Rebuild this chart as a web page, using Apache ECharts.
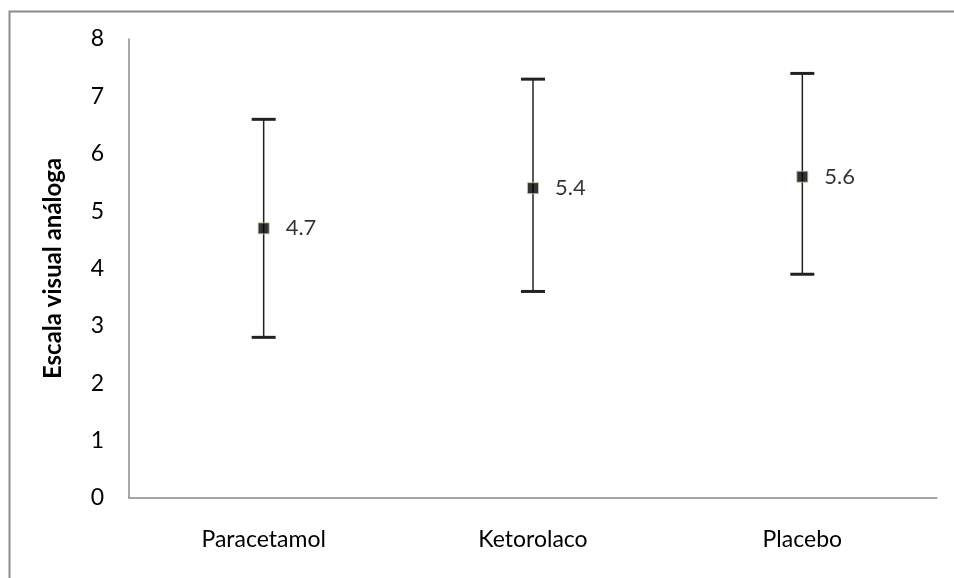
<!DOCTYPE html>
<html>
<head>
<meta charset="utf-8">
<script src="https://cdn.jsdelivr.net/npm/echarts@6/dist/echarts.min.js"></script>
<style>
  html, body { margin: 0; padding: 0; background: #fff; }
  #chart { width: 954px; height: 578px; }
</style>
</head>
<body>
<div id="chart"></div>
<script>
// Pain scores (visual analogue scale) by treatment group
const categories = ['Paracetamol', 'Ketorolaco', 'Placebo'];
const means = [4.7, 5.4, 5.6];
const upperBounds = [6.6, 7.3, 7.4];
const lowerBounds = [2.8, 3.6, 3.9];
const yTicks = [0, 1, 2, 3, 4, 5, 6, 7, 8];

const labelFont = 'Lato, "Open Sans", sans-serif';

const chart = echarts.init(document.getElementById('chart'), null, { renderer: 'canvas' });

const errorData = categories.map((c, i) => [i, lowerBounds[i], upperBounds[i]]);
const meanData = categories.map((c, i) => [i, means[i]]);

chart.setOption({
  backgroundColor: '#ffffff',
  animation: false,
  graphic: [{
    type: 'rect',
    left: 7, top: 9,
    shape: { width: 1000, height: 620 },
    style: { fill: 'none', stroke: '#8c8c8c', lineWidth: 2 },
    silent: true
  }],
  grid: { left: 129, right: 17, top: 39, bottom: 80 },
  xAxis: {
    type: 'category',
    data: categories,
    boundaryGap: true,
    axisLine: { show: true, lineStyle: { color: '#8a8a8a', width: 1.5 } },
    axisTick: { show: false },
    axisLabel: { margin: 30, color: '#000', fontSize: 23, fontFamily: labelFont }
  },
  yAxis: {
    type: 'value',
    min: yTicks[0],
    max: yTicks[yTicks.length - 1],
    interval: 1,
    name: 'Escala visual análoga',
    nameLocation: 'middle',
    nameGap: 64,
    nameRotate: 90,
    nameTextStyle: { color: '#000', fontSize: 24, fontWeight: 'bold', fontFamily: labelFont },
    axisLine: { show: true, lineStyle: { color: '#8a8a8a', width: 1.5 } },
    axisTick: { show: false },
    splitLine: { show: false },
    axisLabel: { margin: 25, color: '#000', fontSize: 23, fontFamily: labelFont }
  },
  series: [
    {
      type: 'custom',
      name: 'rango',
      data: errorData,
      renderItem: function (params, api) {
        const x = api.value(0);
        const lo = api.coord([x, api.value(1)]);
        const hi = api.coord([x, api.value(2)]);
        const half = 12;
        return {
          type: 'group',
          children: [
            { type: 'line', shape: { x1: hi[0], y1: hi[1], x2: lo[0], y2: lo[1] },
              style: { stroke: '#222', lineWidth: 1.5 } },
            { type: 'line', shape: { x1: hi[0] - half, y1: hi[1], x2: hi[0] + half, y2: hi[1] },
              style: { stroke: '#222', lineWidth: 3 } },
            { type: 'line', shape: { x1: lo[0] - half, y1: lo[1], x2: lo[0] + half, y2: lo[1] },
              style: { stroke: '#222', lineWidth: 3 } }
          ]
        };
      },
      z: 2
    },
    {
      type: 'scatter',
      name: 'media',
      data: meanData,
      symbol: 'rect',
      symbolSize: 11,
      itemStyle: { color: '#000', borderColor: '#c9c6a0', borderWidth: 1 },
      label: {
        show: true,
        position: 'right',
        distance: 16,
        formatter: p => p.value[1].toFixed(1),
        color: '#000',
        fontSize: 22,
        fontFamily: labelFont
      },
      z: 3
    }
  ]
});
</script>
</body>
</html>
